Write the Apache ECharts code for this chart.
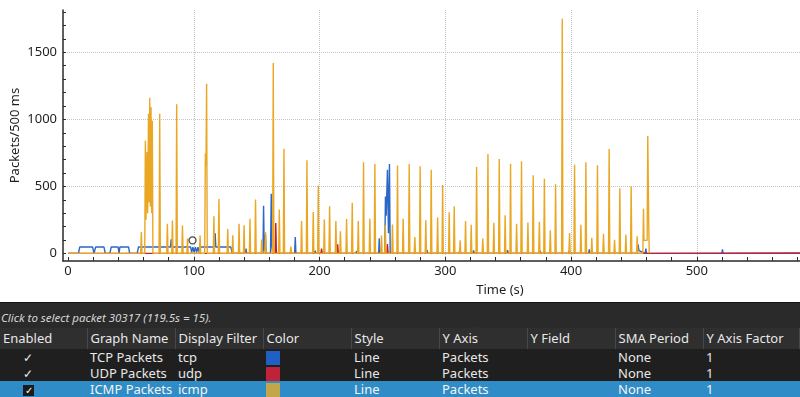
<!DOCTYPE html>
<html>
<head>
<meta charset="utf-8">
<title>I/O Graph</title>
<script src="https://cdn.jsdelivr.net/npm/echarts@6/dist/echarts.min.js"></script>
<style>
  html, body { margin: 0; padding: 0; background: #fff; }
  body { width: 800px; height: 397px; position: relative; overflow: hidden; font-family: "Noto Sans", sans-serif; }
  #chart { position: absolute; left: 0; top: 0; width: 800px; height: 302px; }
  #panel { position: absolute; left: 0; top: 302px; width: 800px; height: 95px; background: #2a2a2a; border-top: 1px solid #151515; }
  #status { position: absolute; left: 1px; top: 7px; font-size: 11.5px; font-style: italic; color: #d6d6d6; line-height: 16px; white-space: nowrap; }
  #handle { position: absolute; left: 470px; top: 17px; font-size: 8px; color: #9a9a9a; letter-spacing: 0px; }
  table { position: absolute; left: 0; top: 25px; width: 800px; border-collapse: collapse; table-layout: fixed; font-size: 13px; color: #e8e8e8; }
  th { height: 21px; line-height: 19px; background: #2f2f2f; font-weight: normal; text-align: left; padding: 0 0 0 3px; border-right: 1px solid #474747; white-space: nowrap; overflow: hidden; }
  td { height: 16px; line-height: 15px; padding: 0 0 0 3px; background: #1f1f1f; white-space: nowrap; overflow: hidden; }
  tr.sel td { background: #308cc6; color: #f4f4f4; }
  .chk { padding-left: 23px; font-size: 12px; }
  .box { display: inline-block; width: 11px; height: 11px; line-height: 11px; background: #1b1b1b; color: #fff; font-size: 10px; text-align: center; vertical-align: middle; }
  .sw { display: inline-block; width: 14px; height: 14px; vertical-align: middle; }
</style>
</head>
<body>
<div id="chart"></div>
<div id="panel">
  <div id="status">Click to select packet 30317 (119.5s = 15).</div>
  <div id="handle">......</div>
  <table>
    <colgroup>
      <col style="width:87px"><col style="width:88px"><col style="width:88px"><col style="width:88px"><col style="width:88px">
      <col style="width:88px"><col style="width:88px"><col style="width:88px"><col>
    </colgroup>
    <thead id="head"></thead>
    <tbody id="rows"></tbody>
  </table>
</div>
<script>
// x axis (seconds) and y axis (packets per 500 ms) tick values
const xLabelValues = [0, 100, 200, 300, 400, 500, 600];
const xGridValues = [100, 200, 300, 400, 500, 600];
const yLabelValues = [0, 500, 1000, 1500];
const yGridValues = [500, 1000, 1500];

// [time s, packets]
const tcpPoints = [
  [0, 0], [8.3, 0], [9.3, 47], [19.6, 47], [20.6, 0], [21.2, 0], [22, 47], [28.6, 47], [29.6, 0],
  [33.3, 0], [34.3, 47], [39.8, 47], [40.6, 0], [41.2, 47], [48.2, 47], [49, 0],
  [55, 0], [56, 47], [81.5, 47], [82, 104], [82.5, 47], [97.5, 47], [98.3, 8], [99.3, 47], [100.3, 8],
  [101.3, 47], [102.3, 8], [103.3, 47], [104.3, 8], [105.3, 47], [116.5, 47], [117, 150], [117.5, 47],
  [129.5, 47], [130.5, 0], [141, 0], [141.5, 35], [142, 0],
  [155, 0], [155.5, 355], [156, 20], [157, 140], [157.5, 0],
  [161, 0], [161.6, 445], [162.1, 60], [162.8, 0], [180.2, 0], [180.7, 122], [181.2, 0],
  [196, 0], [196.5, 20], [197, 0], [229, 0], [229.5, 18], [230, 0],
  [247, 0], [247.5, 112], [248, 0],
  [251.9, 0], [252.4, 425], [253, 280], [254, 624], [254.8, 150], [255.6, 666], [256.2, 0],
  [266, 0], [266.4, 40], [266.8, 0], [285, 0], [285.5, 25], [286, 0],
  [311, 0], [311.5, 25], [312, 0], [322, 0], [322.5, 22], [323, 0], [349, 0], [349.5, 25], [350, 0],
  [375, 0], [375.5, 18], [376, 0], [398, 0], [398.5, 20], [399, 0], [414, 0], [414.5, 30], [415, 0],
  [452.5, 0], [453.3, 65], [454, 20], [459, 0], [459.5, 35], [460, 0],
  [473, 0], [473.5, 10], [474, 0], [519.9, 0], [520.4, 30], [520.9, 0],
  [534, 0], [534.5, 10], [535, 0], [545, 0], [545.5, 8], [546, 0], [567, 0], [567.5, 8], [568, 0],
  [590, 0]
];

const udpPoints = [
  [0, 0], [46.5, 0], [47.2, 10], [48, 0], [164.7, 0], [165.2, 226], [165.7, 0],
  [201.1, 0], [201.6, 35], [202.1, 0], [213.9, 0], [214.4, 67], [214.9, 0],
  [253.5, 0], [254, 70], [254.5, 0], [462, 0], [463, 3], [590, 3]
];

const icmpPoints = [
  [0, 0], [57.8, 0], [58.3, 159], [58.8, 0],
  [61, 0], [61.5, 840], [62, 250], [62.8, 756], [63.3, 300], [64, 1042], [64.4, 380], [65, 1162],
  [65.5, 350], [66, 1090], [66.5, 300], [67, 990], [67.5, 0],
  [72.4, 0], [72.9, 1042], [73.4, 0], [78.5, 0], [79, 220], [79.5, 0], [82.5, 0], [83, 246], [83.5, 0],
  [85.9, 0], [86.4, 1112], [86.9, 0], [90.5, 0], [91, 207], [91.5, 0], [94.5, 0], [95, 110], [95.5, 0],
  [104.5, 0], [105, 133], [105.5, 0], [108.7, 0], [109.2, 745], [109.7, 650], [110.2, 1266], [110.7, 0],
  [115.5, 0], [116, 276], [116.5, 0], [119.5, 0], [120, 405], [120.5, 0], [126.5, 0], [127, 182], [127.5, 0],
  [130.5, 0], [131, 135], [131.5, 0], [135.5, 0], [136, 220], [136.5, 0], [139.5, 0], [140, 210], [140.5, 0],
  [144.2, 0], [144.7, 259], [145.2, 0], [148.6, 0], [149.1, 402], [149.6, 0],
  [153.5, 0], [154, 104], [154.5, 0], [156.5, 0], [157, 159], [157.5, 0],
  [162.7, 0], [163.2, 1420], [163.7, 0], [167.5, 0], [168, 327], [168.5, 0],
  [171.2, 0], [171.7, 781], [172.2, 0], [176.7, 0], [177.2, 50], [177.7, 0],
  [185.2, 0], [185.7, 241], [186.2, 0], [189.5, 0], [190, 694], [190.5, 0],
  [194.5, 0], [195, 308], [195.5, 0], [198.5, 0], [199, 507], [199.5, 0],
  [203.3, 0], [203.8, 252], [204.3, 0], [207.5, 0], [208, 352], [208.5, 0],
  [212.5, 0], [213, 241], [213.5, 0], [216.1, 0], [216.6, 165], [217.1, 0],
  [221, 0], [221.5, 257], [222, 0], [225.5, 0], [226, 378], [226.5, 0],
  [230.3, 0], [230.8, 241], [231.3, 0], [234.5, 0], [235, 680], [235.5, 0],
  [239.5, 0], [240, 259], [240.5, 0], [243.5, 0], [244, 667], [244.5, 0],
  [248.8, 0], [249.3, 134], [249.8, 0], [251.8, 0], [252.3, 209], [252.8, 0],
  [257.5, 0], [258, 216], [258.5, 0], [261.5, 0], [262, 656], [262.5, 0],
  [266, 0], [266.5, 259], [267, 0], [270.8, 0], [271.3, 666], [271.8, 0],
  [275.3, 0], [275.8, 121], [276.3, 0], [279.5, 0], [280, 650], [280.5, 0],
  [284, 0], [284.5, 247], [285, 0], [288.3, 0], [288.8, 624], [289.3, 0],
  [293.4, 0], [293.9, 267], [294.4, 0], [297.4, 0], [297.9, 510], [298.4, 0],
  [302.6, 0], [303.1, 307], [303.6, 0], [306.6, 0], [307.1, 352], [307.6, 0],
  [311.3, 0], [311.8, 97], [312.3, 0], [315.6, 0], [316.1, 241], [316.6, 0],
  [320.1, 0], [320.6, 214], [321.1, 0], [324.4, 0], [324.9, 644], [325.4, 0],
  [329.3, 0], [329.8, 110], [330.3, 0], [333.4, 0], [333.9, 742], [334.4, 0],
  [338.1, 0], [338.6, 229], [339.1, 0], [342.4, 0], [342.9, 704], [343.4, 0],
  [347.1, 0], [347.6, 284], [348.1, 0], [351.4, 0], [351.9, 669], [352.4, 0],
  [356.2, 0], [356.7, 221], [357.2, 0], [360.1, 0], [360.6, 687], [361.1, 0],
  [365.2, 0], [365.7, 231], [366.2, 0], [369.4, 0], [369.9, 582], [370.4, 0],
  [374.3, 0], [374.8, 236], [375.3, 0], [378.3, 0], [378.8, 557], [379.3, 0],
  [383, 0], [383.5, 172], [384, 0], [387.2, 0], [387.7, 515], [388.2, 0],
  [392.5, 0], [393, 1751], [393.5, 0], [398.3, 0], [398.8, 152], [399.3, 0],
  [402.3, 0], [402.8, 662], [403.3, 0], [407.3, 0], [407.8, 214], [408.3, 0],
  [411.3, 0], [411.8, 679], [412.3, 0], [416, 0], [416.5, 117], [417, 0],
  [420.5, 0], [421, 657], [421.5, 0], [425.3, 0], [425.8, 147], [426.3, 0],
  [429.8, 0], [430.3, 779], [430.8, 0], [434.1, 0], [434.6, 102], [435.1, 0],
  [438.3, 0], [438.8, 485], [439.3, 0], [443.1, 0], [443.6, 139], [444.1, 0],
  [447.3, 0], [447.8, 500], [448.3, 0], [452.1, 0], [452.6, 127], [453.1, 0],
  [457.1, 0], [457.6, 333], [458, 97], [460.5, 97], [461, 876], [461.8, 196], [462.2, 0]
];

// selected-packet tracer
const tracerPoint = [[99, 97]];

// graph table below the plot
const tableHeaders = ["Enabled", "Graph Name", "Display Filter", "Color", "Style", "Y Axis", "Y Field", "SMA Period", "Y Axis Factor"];
const graphNames = ["TCP Packets", "UDP Packets", "ICMP Packets"];
const graphFilters = ["tcp", "udp", "icmp"];
const swatchColors = ["#1f60c4", "#c0223a", "#c4a64a"];
const lineColors = ["#2a67c6", "#c3202f", "#eaa724"];

const fontFamily = "Noto Sans";
const xTickValues = [];
for (let v = 0; v <= 680; v += 20) xTickValues.push(v);
const yTickValues = [];
for (let v = 0; v <= 1800; v += 100) yTickValues.push(v);

// build the table
let headHtml = "<tr>";
tableHeaders.forEach(function (h) { headHtml += "<th>" + h + "</th>"; });
headHtml += "</tr>";
document.getElementById("head").innerHTML = headHtml;
let rowsHtml = "";
for (let i = 0; i < graphNames.length; i++) {
  const sel = i === graphNames.length - 1;
  rowsHtml += '<tr' + (sel ? ' class="sel"' : '') + '>' +
    '<td class="chk">' + (sel ? '<span class="box">✓</span>' : '✓') + '</td>' +
    '<td>' + graphNames[i] + '</td>' +
    '<td>' + graphFilters[i] + '</td>' +
    '<td><span class="sw" style="background:' + swatchColors[i] + '"></span></td>' +
    '<td>Line</td><td>Packets</td><td></td><td>None</td><td>1</td></tr>';
}
document.getElementById("rows").innerHTML = rowsHtml;

const axisColor = "#2a2a2a";
const textColor = "#1e1e1e";
const xMin = -4, xMax = 691, yMin = -57, yMax = 1816;
const plain = function (v) { return String(v); };

function lineSeries(name, data, color) {
  return {
    name: name,
    type: "line",
    data: data,
    showSymbol: false,
    symbol: "none",
    lineStyle: { color: color, width: 1.4 },
    itemStyle: { color: color },
    xAxisIndex: 0,
    yAxisIndex: 0,
    animation: false
  };
}

const myChart = echarts.init(document.getElementById("chart"));
const option = {
  animation: false,
  // plot rect runs past the right edge of the window, as in the screenshot
  grid: { left: 63, top: 10, width: 874, height: 251, containLabel: false, outerBoundsMode: "none" },
  xAxis: [
    {
      type: "value", min: xMin, max: xMax,
      name: "Time (s)", nameLocation: "middle", nameGap: 23, nameMoveOverlap: false,
      nameTextStyle: { color: textColor, fontSize: 13, fontFamily: fontFamily },
      axisLine: { onZero: false, lineStyle: { color: axisColor, width: 1.5 } },
      axisTick: { inside: true, length: 4, customValues: xTickValues, lineStyle: { color: axisColor } },
      axisLabel: { customValues: xLabelValues, formatter: plain, margin: 4, color: textColor, fontSize: 13, fontFamily: fontFamily },
      splitLine: { show: false }
    },
    {
      type: "value", min: xMin, max: xMax, position: "bottom",
      axisLine: { show: false },
      axisTick: { show: false, customValues: xGridValues },
      axisLabel: { show: false, customValues: xGridValues },
      splitLine: { show: true, lineStyle: { color: "#c4c4c4", type: "dotted", width: 1 } }
    }
  ],
  yAxis: [
    {
      type: "value", min: yMin, max: yMax,
      name: "Packets/500 ms", nameLocation: "middle", nameGap: 41, nameMoveOverlap: false,
      nameTextStyle: { color: textColor, fontSize: 13, fontFamily: fontFamily },
      axisLine: { show: true, onZero: false, lineStyle: { color: axisColor, width: 1.5 } },
      axisTick: { show: true, inside: true, length: 3, customValues: yTickValues, lineStyle: { color: axisColor } },
      axisLabel: { customValues: yLabelValues, formatter: plain, margin: 6, color: textColor, fontSize: 13, fontFamily: fontFamily },
      splitLine: { show: false }
    },
    {
      type: "value", min: yMin, max: yMax, position: "left",
      axisLine: { show: false },
      axisTick: { show: false, customValues: yGridValues },
      axisLabel: { show: false, customValues: yGridValues },
      splitLine: { show: true, lineStyle: { color: "#c4c4c4", type: "dotted", width: 1 } }
    }
  ],
  series: [
    lineSeries(graphNames[0], tcpPoints, lineColors[0]),
    lineSeries(graphNames[1], udpPoints, lineColors[1]),
    lineSeries(graphNames[2], icmpPoints, lineColors[2]),
    {
      type: "scatter",
      data: tracerPoint,
      symbol: "circle",
      symbolSize: 7,
      itemStyle: { color: "#ffffff", borderColor: "#1a1a1a", borderWidth: 1.3 },
      z: 5
    }
  ]
};
myChart.setOption(option);
</script>
</body>
</html>
